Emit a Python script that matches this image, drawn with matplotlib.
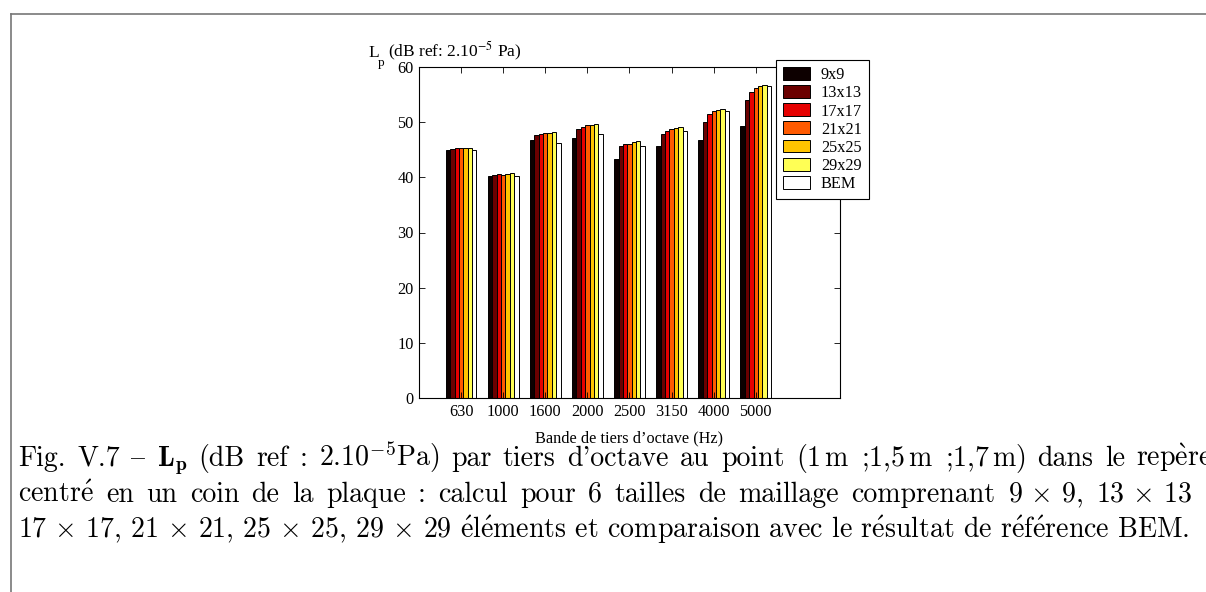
import numpy as np
import matplotlib.pyplot as plt
from matplotlib.lines import Line2D

# third-octave bands and mesh sizes
bands = ["630", "1000", "1600", "2000", "2500", "3150", "4000", "5000"]
series = ["9x9", "13x13", "17x17", "21x21", "25x25", "29x29", "BEM"]
colors = ["#0d0000", "#6b0000", "#e60000", "#ff5a00", "#ffc400", "#ffff55", "#ffffff"]

lp_9 = [45.0, 40.3, 46.8, 47.2, 43.3, 45.6, 46.7, 49.3]
lp_13 = [45.2, 40.5, 47.6, 48.8, 45.7, 47.8, 50.1, 54.0]
lp_17 = [45.3, 40.6, 47.9, 49.2, 46.0, 48.4, 51.4, 55.5]
lp_21 = [45.3, 40.5, 48.1, 49.4, 46.1, 48.8, 52.0, 56.2]
lp_25 = [45.4, 40.6, 48.1, 49.5, 46.4, 49.0, 52.2, 56.6]
lp_29 = [45.4, 40.8, 48.3, 49.6, 46.5, 49.2, 52.4, 56.8]
lp_bem = [44.9, 40.2, 46.3, 47.9, 45.7, 48.4, 52.0, 56.6]
values = [lp_9, lp_13, lp_17, lp_21, lp_25, lp_29, lp_bem]

# cmr10 uses the TeX OT1 layout: "{" is the en dash, "'" the right quote
E_AC = r"$\mathrm{\acute{e}}$"
E_GR = r"$\mathrm{\grave{e}}$"
X = r"$\,\times\,$"
caption = [
    r"Fig. V.7 { $\mathbf{L_p}$ (dB ref : 2.10$^{-5}$Pa) par tiers d'octave au point (1$\,$m ;1,5$\,$m ;1,7$\,$m) dans le rep" + E_GR + "re",
    "centr" + E_AC + " en un coin de la plaque : calcul pour 6 tailles de maillage comprenant 9" + X + "9, 13" + X + "13 ;",
    "17" + X + "17, 21" + X + "21, 25" + X + "25, 29" + X + "29 " + E_AC + "l" + E_AC + "ments et comparaison avec le r"
    + E_AC + "sultat de r" + E_AC + "f" + E_AC + "rence BEM.",
]
justify = [True, True, False]

W, H = 1206, 592
fig = plt.figure(figsize=(W / 100, H / 100), dpi=100)
serif = ["Liberation Serif", "DejaVu Serif"]
fs = 11.7

ax = fig.add_axes([419 / W, 1 - 398 / H, 421 / W, 331 / H])
x = np.arange(1, len(bands) + 1)
bw = 0.104
for i, (name, vals) in enumerate(zip(series, values)):
    ax.bar(x + (i - 3) * bw, vals, width=bw, color=colors[i],
           edgecolor="black", linewidth=0.7, label=name)

ax.set_xlim(0, 10)
ax.set_ylim(0, 60)
ax.set_xticks(x)
ax.set_xticklabels(bands)
ax.set_yticks(range(0, 61, 10))
ax.tick_params(direction="in", top=True, right=True, length=4, width=0.6,
               labelsize=fs, pad=4)
for lab in ax.get_xticklabels() + ax.get_yticklabels():
    lab.set_family(serif)
for s in ax.spines.values():
    s.set_linewidth(0.8)
ax.set_xlabel("Bande de tiers d’octave (Hz)", family=serif, fontsize=fs, labelpad=8)

# y label sits above the axis, matlab style
fig.text(368 / W, 1 - 57 / H, "L", family=serif, fontsize=12.5, va="baseline")
fig.text(378 / W, 1 - 66 / H, "p", family=serif, fontsize=9.5, va="baseline")
fig.text(388 / W, 1 - 57 / H, r"(dB ref: 2.10$^{-5}$ Pa)",
         family=serif, fontsize=12.5, math_fontfamily="stix", va="baseline")

leg = fig.legend(loc="upper left", bbox_to_anchor=(776 / W, 1 - 60 / H),
                 prop={"family": serif, "size": fs}, frameon=True, fancybox=False,
                 edgecolor="black", framealpha=1, handlelength=1.66, handleheight=0.85,
                 handletextpad=0.65, labelspacing=0.12, borderpad=0.45, borderaxespad=0)
leg.get_frame().set_linewidth(0.8)

# page frame
fig.add_artist(Line2D([11 / W, 1], [1 - 14 / H, 1 - 14 / H], color="#777777", lw=1.2))
fig.add_artist(Line2D([11 / W, 11 / W], [0, 1 - 14 / H], color="#777777", lw=1.2))

# caption, first two lines justified like the LaTeX paragraph
renderer = fig.canvas.get_renderer()
x0, x1 = 18, 1212
for k, line in enumerate(caption):
    y = 1 - (466 + 36 * k) / H
    if not justify[k]:
        fig.text(x0 / W, y, line, family="cmr10", fontsize=20.1,
                 math_fontfamily="cm", va="baseline")
        continue
    words = line.split(" ")
    texts = [fig.text(0, y, w, family="cmr10", fontsize=20.1,
                      math_fontfamily="cm", va="baseline") for w in words]
    widths = [t.get_window_extent(renderer).width for t in texts]
    gap = (x1 - x0 - sum(widths)) / (len(words) - 1)
    pos = x0
    for t, w in zip(texts, widths):
        t.set_x(pos / W)
        pos += w + gap

fig.savefig("out.png", dpi=100)
